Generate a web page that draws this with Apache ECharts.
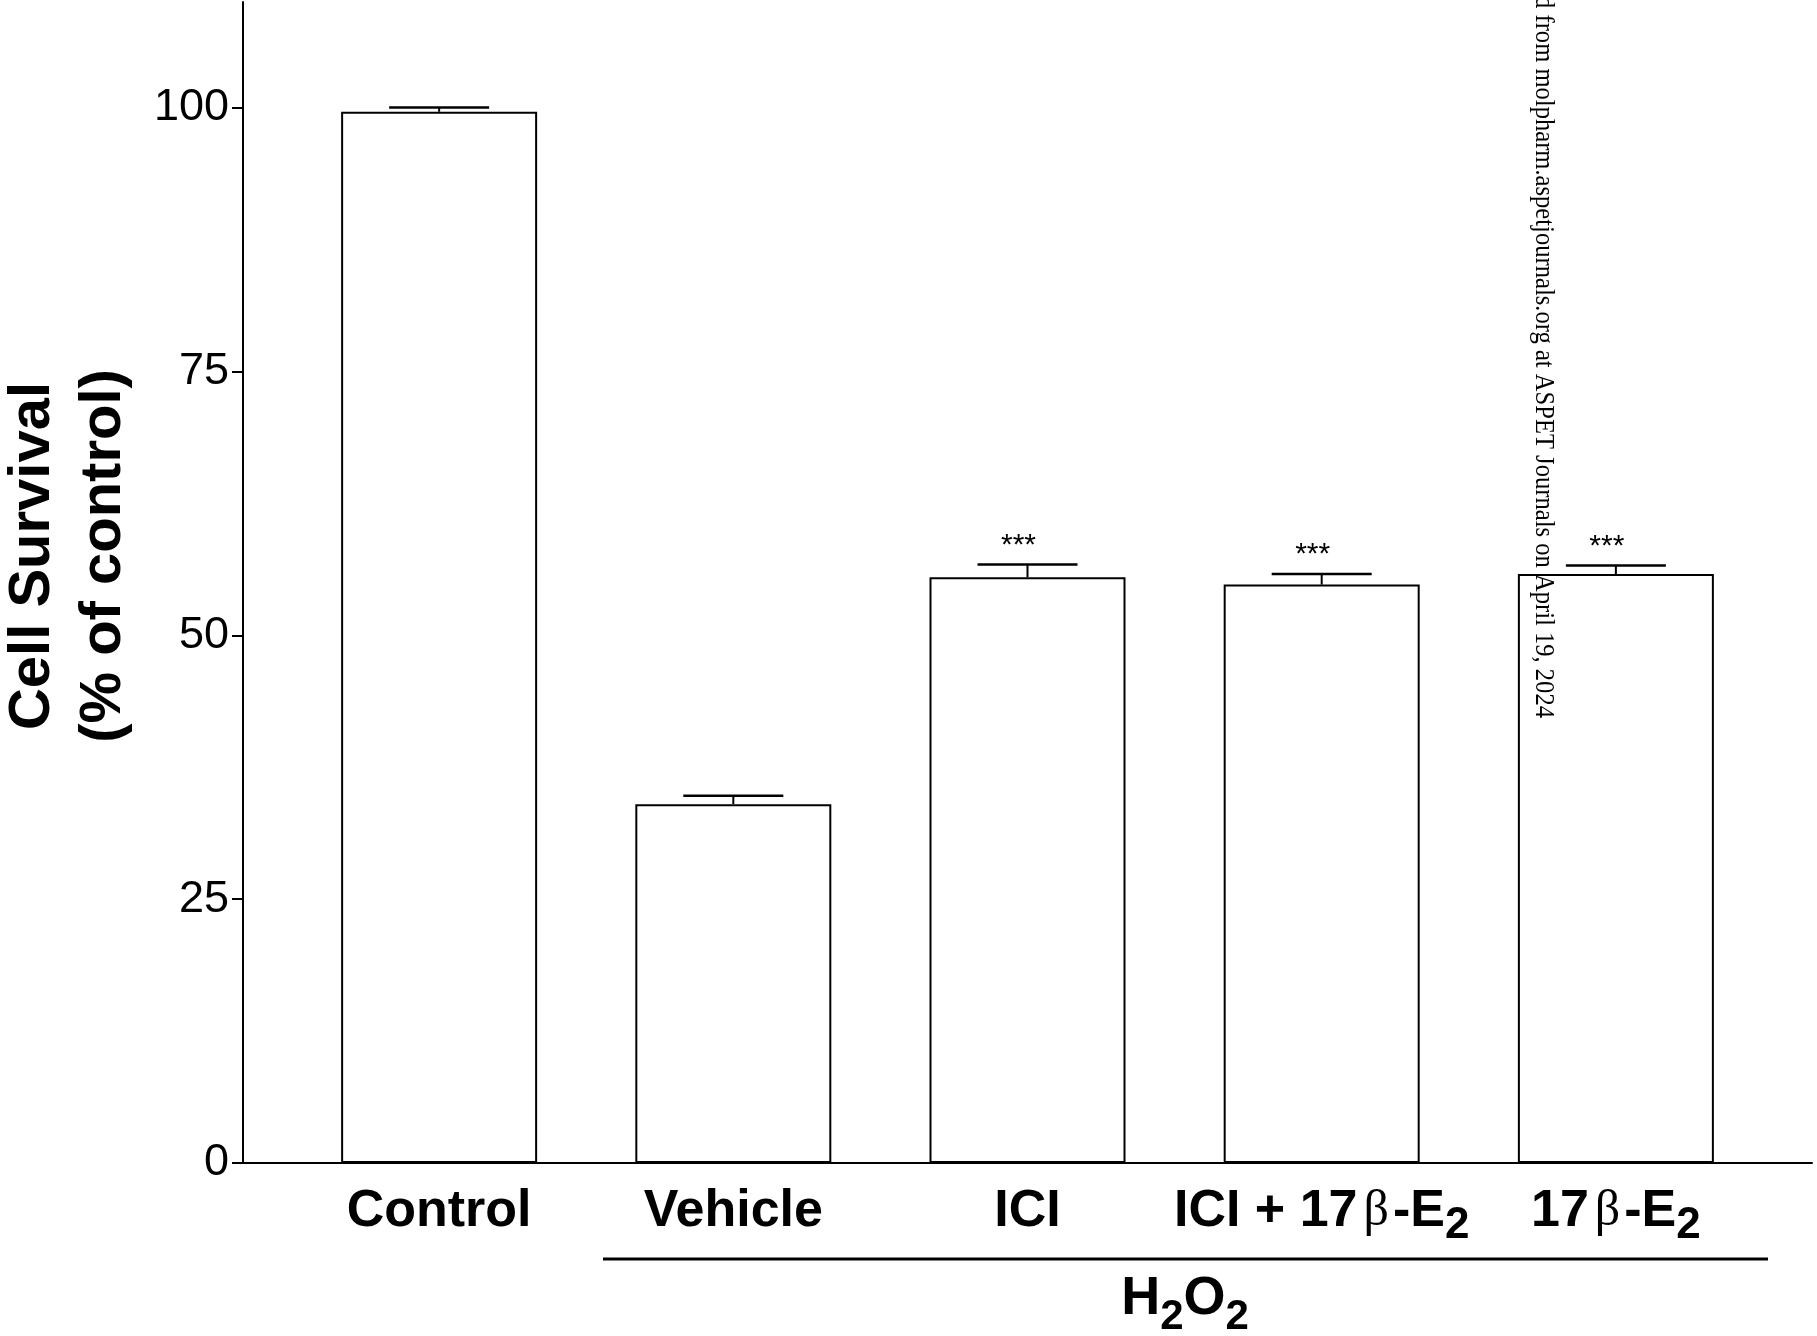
<!DOCTYPE html>
<html><head><meta charset="utf-8">
<script src="https://cdn.jsdelivr.net/npm/echarts@6/dist/echarts.min.js"></script>
<style>html,body{margin:0;padding:0;background:#fff}#chart{width:1817px;height:1336px}</style>
</head><body><div id="chart"></div>
<script>
// ---- data ----
const categories = ['Control', 'Vehicle', 'ICI', 'ICI + 17β-E₂', '17β-E₂'];
const meanSurvival = [99.6, 34.0, 55.5, 54.8, 55.8];
const semSurvival = [0.4, 0.8, 1.2, 1.0, 0.8];
const significance = ['', '', '***', '***', '***'];
const yTicks = [0, 25, 50, 75, 100];
const yAxisTitle = 'Cell Survival\n(% of control)';
const groupLabel = 'H₂O₂';
const watermark = 'Downloaded from molpharm.aspetjournals.org at ASPET Journals on April 19, 2024';

const SANS = '"Liberation Sans", Arial, Helvetica, sans-serif';
const SERIF = '"Liberation Serif", "Times New Roman", serif';

function toRich(s, main, sub, greek) {
  let out = '', buf = '';
  const flush = () => { if (buf) { out += '{' + main + '|' + buf + '}'; buf = ''; } };
  for (const ch of s) {
    if (ch === 'β') { flush(); out += '{' + greek + '|β}'; }
    else if (ch === '₂') { flush(); out += '{' + sub + '|2}'; }
    else buf += ch;
  }
  flush();
  return out;
}

const chart = echarts.init(document.getElementById('chart'), null, {renderer: 'canvas'});

const labelRich = {
  b: {fontFamily: SANS, fontWeight: 'bold', fontSize: 52, lineHeight: 60, color: '#000'},
  g: {fontFamily: SERIF, fontWeight: 'normal', fontSize: 50, lineHeight: 60, color: '#000', padding: [0, 4, 0, 6]},
  s: {fontFamily: SANS, fontWeight: 'bold', fontSize: 44, color: '#000', padding: [28, 0, 0, 0]}
};

const option = {
  backgroundColor: '#fff',
  animation: false,
  grid: {left: 243, right: 5, top: 2, bottom: 173, containLabel: false},
  xAxis: {
    type: 'value', min: -2 / 3, max: 4 + 2 / 3,
    axisLine: {show: true, onZero: false, lineStyle: {color: '#000', width: 2}},
    axisTick: {show: false}, axisLabel: {show: false}, splitLine: {show: false}
  },
  yAxis: {
    type: 'value', min: 0, max: 110, interval: 25,
    axisLine: {show: true, onZero: false, lineStyle: {color: '#000', width: 2}},
    axisTick: {show: true, length: 11, customValues: yTicks, lineStyle: {color: '#000', width: 2}},
    axisLabel: {show: true, customValues: yTicks, margin: 14, fontFamily: SANS, fontSize: 45, color: '#000'},
    splitLine: {show: false}
  },
  series: [
    {
      type: 'bar',
      data: meanSurvival.map((v, i) => [i, v]),
      barWidth: 196,
      itemStyle: {color: '#fff', borderColor: '#000', borderWidth: 2},
      z: 2
    },
    {
      type: 'custom',
      clip: false,
      z: 3,
      data: meanSurvival.map((v, i) => [i, v, semSurvival[i]]),
      renderItem: function (params, api) {
        const i = api.value(0), m = api.value(1), e = api.value(2);
        const base = api.coord([i, m]);
        const top = api.coord([i, m + e]);
        const children = [
          {type: 'line', shape: {x1: top[0], y1: base[1], x2: top[0], y2: top[1]}, style: {stroke: '#000', lineWidth: 2}},
          {type: 'line', shape: {x1: top[0] - 50, y1: top[1], x2: top[0] + 50, y2: top[1]}, style: {stroke: '#000', lineWidth: 2.5}}
        ];
        const sig = significance[params.dataIndex];
        if (sig) {
          children.push({type: 'text', x: top[0] - 9, y: top[1] - 19,
            style: {text: sig, fontFamily: SANS, fontSize: 30, fill: '#000', align: 'center', verticalAlign: 'middle'}});
        }
        return {type: 'group', children: children};
      }
    },
    {
      type: 'custom',
      clip: false,
      z: 3,
      data: categories.map((c, i) => [i, 0]),
      renderItem: function (params, api) {
        const p = api.coord([api.value(0), 0]);
        return {
          type: 'text', x: p[0], y: p[1] + 49,
          style: {text: toRich(categories[params.dataIndex], 'b', 's', 'g'), rich: labelRich,
            align: 'center', verticalAlign: 'middle', fill: '#000'}
        };
      }
    }
  ],
  graphic: [
    {
      type: 'text', x: 68, y: 556, rotation: Math.PI / 2,
      style: {text: yAxisTitle, fontFamily: SANS, fontWeight: 'bold', fontSize: 58, lineHeight: 71,
        fill: '#000', align: 'center', verticalAlign: 'middle'}
    },
    {
      type: 'line', shape: {x1: 603, y1: 1259, x2: 1768, y2: 1259},
      style: {stroke: '#000', lineWidth: 3}
    },
    {
      type: 'text', x: 1185, y: 1299,
      style: {
        text: toRich(groupLabel, 'h', 'hs', 'h'),
        rich: {
          h: {fontFamily: SANS, fontWeight: 'bold', fontSize: 54, lineHeight: 62, color: '#000'},
          hs: {fontFamily: SANS, fontWeight: 'bold', fontSize: 42, color: '#000', padding: [36, 0, 0, 0]}
        },
        align: 'center', verticalAlign: 'middle', fill: '#000'
      }
    },
    {
      type: 'text', x: 1529, y: 718, rotation: -Math.PI / 2, scaleX: 0.878, z: 100,
      style: {text: watermark, fontFamily: SERIF, fontSize: 28, fill: '#000',
        align: 'right', verticalAlign: 'bottom'}
    }
  ]
};
chart.setOption(option);
</script>
</body></html>
